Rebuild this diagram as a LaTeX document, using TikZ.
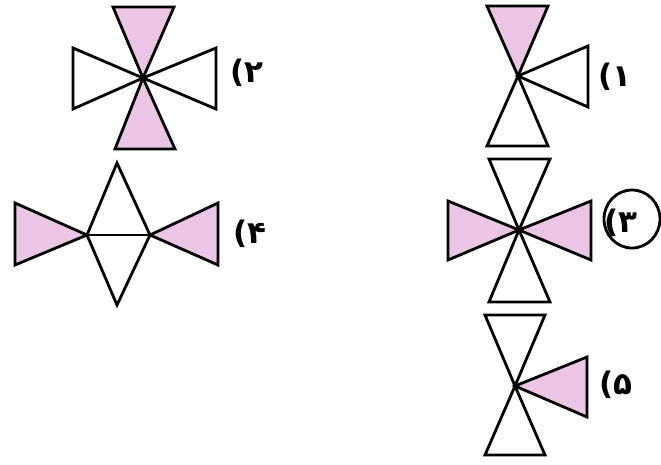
\documentclass[tikz,border=0pt]{standalone}
\usepackage{fontspec}
\newfontfamily\pfont{DejaVu Sans}
\definecolor{shade}{RGB}{234,198,228}
\begin{document}
\begin{tikzpicture}[x=1pt,y=-1pt,
  tri/.style={draw=black,line width=2.8pt,line join=miter},
  pink/.style={tri,fill=shade},
  lbl/.style={font=\pfont\bfseries\fontsize{31}{31}\selectfont,inner sep=0pt}]
\useasboundingbox[fill=white] (0,0) rectangle (661,464);
% figure 2
\coordinate (c2) at (143,78);
\draw[pink] (113,7) -- (174,7) -- (c2) -- cycle;
\draw[pink] (115,149) -- (175,149) -- (c2) -- cycle;
\draw[tri] (73,48) -- (73,109) -- (c2) -- cycle;
\draw[tri] (216,48) -- (216,109) -- (c2) -- cycle;
\node[lbl] (l2) at (247,73) {(۲};
% figure 1
\coordinate (c1) at (518,76);
\draw[pink] (487,6) -- (548,6) -- (c1) -- cycle;
\draw[tri] (487,146) -- (548,146) -- (c1) -- cycle;
\draw[tri] (588,46) -- (588,107) -- (c1) -- cycle;
\node[lbl] (l1) at (615,77) {(۱};
% figure 4
\coordinate (a4) at (87,235);
\coordinate (b4) at (150,235);
\coordinate (t4) at (117,163);
\coordinate (u4) at (117,305);
\draw[pink] (15,203) -- (15,265) -- (a4) -- cycle;
\draw[pink] (218,203) -- (218,265) -- (b4) -- cycle;
\draw[tri] (a4) -- (t4) -- (b4) -- (u4) -- cycle;
\draw[tri] (a4) -- (b4);
\node[lbl] (l4) at (250,234) {(۴};
% figure 3
\coordinate (c3) at (519,230);
\draw[tri] (489,159) -- (550,159) -- (c3) -- cycle;
\draw[tri] (489,302) -- (550,302) -- (c3) -- cycle;
\draw[pink] (448,201) -- (448,260) -- (c3) -- cycle;
\draw[pink] (591,201) -- (591,260) -- (c3) -- cycle;
\node[lbl] (l3) at (621,223) {(۳};
\draw[line width=2.8pt] (632,219) ellipse [x radius=28, y radius=29];
% figure 5
\coordinate (c5) at (515,386);
\draw[tri] (485,315) -- (545,315) -- (c5) -- cycle;
\draw[tri] (485,455) -- (545,455) -- (c5) -- cycle;
\draw[pink] (587,357) -- (587,417) -- (c5) -- cycle;
\node[lbl] (l5) at (616,385) {(۵};
\end{tikzpicture}
\end{document}
